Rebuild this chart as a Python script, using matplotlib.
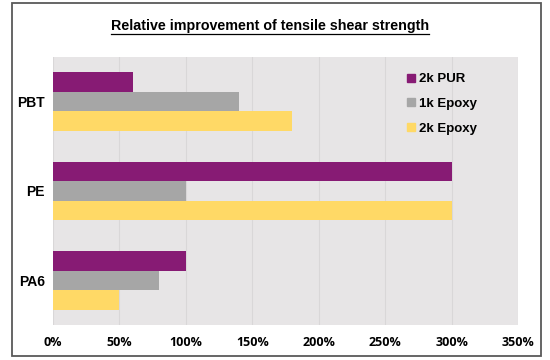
import matplotlib.pyplot as plt
from matplotlib.lines import Line2D
from matplotlib.patches import Rectangle

# data (percent improvement)
materials = ["PA6", "PE", "PBT"]
pur_2k = [100, 300, 60]
epoxy_1k = [80, 100, 140]
epoxy_2k = [50, 300, 180]
xticks = [0, 50, 100, 150, 200, 250, 300, 350]

series_names = ["2k PUR", "1k Epoxy", "2k Epoxy"]
colors = ["#871B74", "#A6A6A6", "#FFD966"]

plt.rcParams["font.family"] = ["Liberation Sans", "DejaVu Sans"]

fig = plt.figure(figsize=(5.5, 3.6), dpi=100)
ax = fig.add_axes([0.0964, 0.0972, 0.8455, 0.7445])
ax.set_facecolor("#E7E5E6")

h = 0.218
ypos = list(range(len(materials)))
for vals, off, c in zip([pur_2k, epoxy_1k, epoxy_2k], [h, 0, -h], colors):
    ax.barh([y + off for y in ypos], vals, height=h, color=c, zorder=3)

ax.set_xlim(0, 350)
ax.set_ylim(-0.5, len(materials) - 0.5)
ax.set_xticks(xticks)
ax.set_xticklabels([f"{t}%" for t in xticks], fontsize=9,
                   fontweight="bold", family=["Open Sans", "DejaVu Sans"])
ax.set_yticks(ypos)
ax.set_yticklabels(materials, fontsize=10, fontweight="bold")
ax.tick_params(length=0, pad=8)
ax.tick_params(axis="y", pad=6)
ax.grid(axis="x", color="#D9D7D8", lw=0.8, zorder=0)
for s in ax.spines.values():
    s.set_visible(False)

handles = [Line2D([], [], marker="s", ls="", color=c, markersize=5.5) for c in colors]
leg = ax.legend(handles, series_names, loc="upper left", bbox_to_anchor=(0.735, 0.985),
                frameon=False, handlelength=0.6, handletextpad=0.3, labelspacing=0.95,
                prop={"size": 9.5, "weight": "bold"})

# title with underline
t = fig.text(0.491, 0.928, "Relative improvement of tensile shear strength",
             ha="center", va="center", fontsize=10.3, fontweight="bold")
fig.canvas.draw()
bb = t.get_window_extent().transformed(fig.transFigure.inverted())
fig.add_artist(Line2D([bb.x0, bb.x1], [bb.y0 - 0.002, bb.y0 - 0.002],
                      transform=fig.transFigure, color="black", lw=0.9))

# outer frame
fig.add_artist(Rectangle((0.0218, 0.0111), 0.9618, 0.9806, transform=fig.transFigure,
                         fill=False, edgecolor="#595959", lw=1.3))

fig.savefig("out.png", dpi=100)
